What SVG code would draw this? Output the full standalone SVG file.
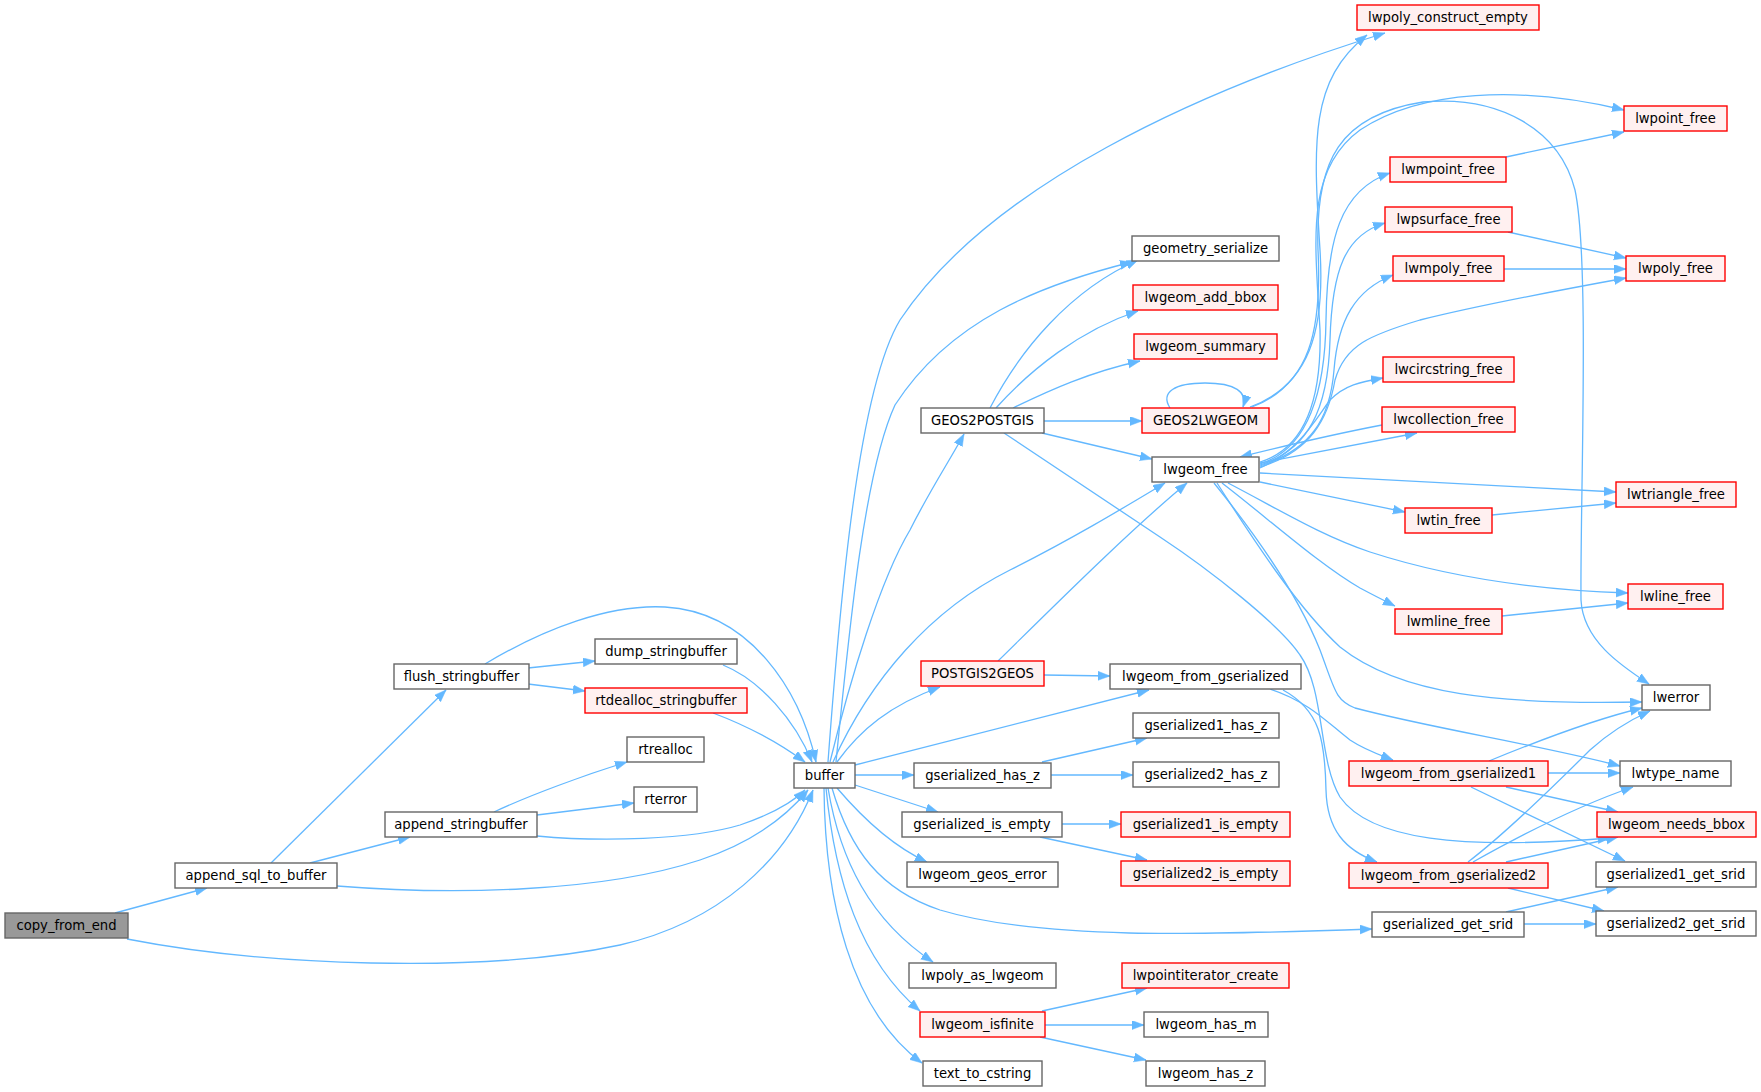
<svg xmlns="http://www.w3.org/2000/svg" width="1761" height="1092" viewBox="0 0 1761 1092">
<style>
.n rect{fill:#ffffff;stroke:#666666;stroke-width:1.4}
.r rect{fill:#fff0f0;stroke:#ff0000;stroke-width:1.4}
.root rect{fill:#999999;stroke:#666666;stroke-width:1.4}
text{font-family:"DejaVu Sans","Liberation Sans",Arial,sans-serif;font-size:13.2px;text-anchor:middle;fill:#000000}
#edges path{fill:none;stroke:#63b8ff;stroke-width:1.3;marker-end:url(#arr)}
</style>
<defs>
<marker id="arr" markerUnits="userSpaceOnUse" markerWidth="13" markerHeight="10" refX="12" refY="4.5" orient="auto">
<path d="M0,0 L12,4.5 L0,9 z" fill="#63b8ff" stroke="#63b8ff" stroke-width="0.5"/>
</marker>
</defs>
<rect width="1761" height="1092" fill="#ffffff"/>
<g id="edges">
<path d="M115,913 L207,888"/>
<path d="M127,939 C260,965 480,975 620,945 C720,922 785,860 813,790"/>
<path d="M271,863 L446,690"/>
<path d="M310,863 L410,837"/>
<path d="M337,886 C450,895 600,893 700,860 C760,840 790,812 808,790"/>
<path d="M494,812 C530,795 585,775 627,762"/>
<path d="M537,815 L634,803"/>
<path d="M537,836 C600,842 690,840 740,825 C775,813 795,800 805,790"/>
<path d="M485,664 C545,628 610,604 665,607 C750,612 800,690 816,762"/>
<path d="M528,668 L595,661"/>
<path d="M528,684 L585,691"/>
<path d="M723,665 C760,680 795,720 812,762"/>
<path d="M713,713 C745,725 775,740 805,762"/>
<path d="M828,762 C840,600 858,390 900,320 C990,185 1200,90 1385,33"/>
<path d="M836,762 C850,620 865,470 895,405 C950,320 1040,285 1132,262"/>
<path d="M830,762 C850,680 880,580 910,530 C930,490 950,460 964,434"/>
<path d="M833,762 C870,680 930,610 1010,570 C1070,540 1120,510 1165,483"/>
<path d="M837,762 C860,730 890,705 940,687"/>
<path d="M855,765 L1149,690"/>
<path d="M855,775 L914,775"/>
<path d="M855,785 L938,812"/>
<path d="M837,788 C860,815 890,845 927,862"/>
<path d="M832,788 C850,850 880,890 940,910 C1040,940 1200,935 1372,929"/>
<path d="M828,788 C840,860 870,920 933,962"/>
<path d="M826,788 C835,880 860,960 920,1011"/>
<path d="M824,788 C825,900 850,1010 922,1063"/>
<path d="M990,408 C1020,350 1070,290 1138,260"/>
<path d="M996,408 C1030,370 1080,330 1138,311"/>
<path d="M1013,408 C1050,390 1090,372 1140,361"/>
<path d="M1044,421 L1142,421"/>
<path d="M1042,433 L1152,459"/>
<path d="M1004,433 L1160,537 C1210,570 1280,625 1300,655 C1325,690 1318,760 1340,797 C1370,840 1460,850 1610,838"/>
<path d="M1170,408 C1160,392 1175,383 1205,383 C1235,383 1248,392 1243,407"/>
<path d="M1250,407 C1310,385 1325,330 1320,250 C1313,140 1310,80 1367,35"/>
<path d="M1252,407 C1310,385 1322,330 1318,250 C1315,160 1340,115 1423,102 C1500,95 1560,130 1575,190 C1590,260 1580,500 1581,600 C1583,640 1620,665 1649,684"/>
<path d="M1260,462 C1300,450 1322,410 1320,330 C1315,240 1305,170 1360,130 C1420,90 1520,85 1624,110"/>
<path d="M1260,464 C1305,450 1325,400 1326,320 C1327,240 1340,190 1390,173"/>
<path d="M1260,465 C1308,450 1328,410 1330,340 C1332,270 1345,235 1385,223"/>
<path d="M1260,466 C1310,450 1330,420 1334,370 C1338,320 1355,290 1393,275"/>
<path d="M1260,467 C1310,452 1328,420 1335,380 C1345,345 1370,335 1420,320 C1480,305 1560,290 1626,278"/>
<path d="M1260,468 C1300,450 1315,420 1330,400 C1345,385 1360,382 1383,378"/>
<path d="M1382,425 C1330,435 1280,447 1240,457"/>
<path d="M1260,463 C1320,452 1370,442 1417,433"/>
<path d="M1260,473 C1400,480 1500,486 1616,492"/>
<path d="M1260,482 L1405,512"/>
<path d="M1228,483 C1280,510 1320,535 1370,552 C1450,578 1540,590 1628,593"/>
<path d="M1222,483 C1270,520 1320,565 1360,588 C1375,596 1385,601 1395,606"/>
<path d="M1217,483 C1260,550 1300,610 1340,647 C1400,695 1500,705 1642,702"/>
<path d="M1214,483 C1260,540 1300,600 1320,650 C1335,690 1335,700 1355,708 C1430,728 1540,745 1620,766"/>
<path d="M1506,157 L1624,132"/>
<path d="M1508,232 L1626,258"/>
<path d="M1504,269 L1626,269"/>
<path d="M1492,515 L1616,503"/>
<path d="M1502,616 L1628,603"/>
<path d="M1044,675 L1110,676"/>
<path d="M998,661 C1050,610 1130,530 1187,483"/>
<path d="M1270,689 C1310,702 1330,725 1350,740 C1365,750 1380,755 1393,760"/>
<path d="M1283,690 C1320,710 1325,740 1326,790 C1327,830 1345,850 1377,862"/>
<path d="M1042,762 L1147,738"/>
<path d="M1051,775 L1133,775"/>
<path d="M1062,824 L1121,824"/>
<path d="M1040,837 L1147,860"/>
<path d="M1042,1011 L1147,988"/>
<path d="M1045,1025 L1144,1025"/>
<path d="M1040,1037 L1146,1060"/>
<path d="M1489,761 C1540,740 1600,718 1642,708"/>
<path d="M1548,773 L1620,773"/>
<path d="M1506,787 L1618,812"/>
<path d="M1471,787 L1625,861"/>
<path d="M1468,862 C1510,830 1560,780 1590,750 C1610,732 1630,720 1650,711"/>
<path d="M1473,862 C1530,830 1580,805 1633,787"/>
<path d="M1506,862 L1618,837"/>
<path d="M1508,888 L1604,911"/>
<path d="M1506,912 L1618,887"/>
<path d="M1524,924 L1596,924"/>
</g>
<g id="n_copy_from_end" class="root"><rect x="5" y="913" width="123" height="25"/><text x="66.5" y="930">copy_from_end</text></g>
<g id="n_append_sql_to_buffer" class="n"><rect x="175" y="863" width="162" height="25"/><text x="256" y="880">append_sql_to_buffer</text></g>
<g id="n_flush_stringbuffer" class="n"><rect x="394" y="664" width="135" height="25"/><text x="461.5" y="681">flush_stringbuffer</text></g>
<g id="n_append_stringbuffer" class="n"><rect x="385" y="812" width="152" height="25"/><text x="461" y="829">append_stringbuffer</text></g>
<g id="n_dump_stringbuffer" class="n"><rect x="595" y="639" width="142" height="25"/><text x="666" y="656">dump_stringbuffer</text></g>
<g id="n_rtdealloc_stringbuffer" class="r"><rect x="585" y="688" width="162" height="25"/><text x="666" y="705">rtdealloc_stringbuffer</text></g>
<g id="n_rtrealloc" class="n"><rect x="627" y="737" width="77" height="25"/><text x="665.5" y="754">rtrealloc</text></g>
<g id="n_rterror" class="n"><rect x="634" y="787" width="63" height="25"/><text x="665.5" y="804">rterror</text></g>
<g id="n_buffer" class="n"><rect x="794" y="763" width="61" height="25"/><text x="824.5" y="780">buffer</text></g>
<g id="n_GEOS2POSTGIS" class="n"><rect x="921" y="408" width="123" height="25"/><text x="982.5" y="425">GEOS2POSTGIS</text></g>
<g id="n_POSTGIS2GEOS" class="r"><rect x="921" y="661" width="123" height="25"/><text x="982.5" y="678">POSTGIS2GEOS</text></g>
<g id="n_gserialized_has_z" class="n"><rect x="914" y="763" width="137" height="25"/><text x="982.5" y="780">gserialized_has_z</text></g>
<g id="n_gserialized_is_empty" class="n"><rect x="902" y="812" width="160" height="25"/><text x="982" y="829">gserialized_is_empty</text></g>
<g id="n_lwgeom_geos_error" class="n"><rect x="907" y="862" width="151" height="25"/><text x="982.5" y="879">lwgeom_geos_error</text></g>
<g id="n_lwpoly_as_lwgeom" class="n"><rect x="909" y="963" width="147" height="25"/><text x="982.5" y="980">lwpoly_as_lwgeom</text></g>
<g id="n_lwgeom_isfinite" class="r"><rect x="920" y="1012" width="125" height="25"/><text x="982.5" y="1029">lwgeom_isfinite</text></g>
<g id="n_text_to_cstring" class="n"><rect x="923" y="1061" width="119" height="25"/><text x="982.5" y="1078">text_to_cstring</text></g>
<g id="n_geometry_serialize" class="n"><rect x="1132" y="236" width="147" height="25"/><text x="1205.5" y="253">geometry_serialize</text></g>
<g id="n_lwgeom_add_bbox" class="r"><rect x="1133" y="285" width="145" height="25"/><text x="1205.5" y="302">lwgeom_add_bbox</text></g>
<g id="n_lwgeom_summary" class="r"><rect x="1134" y="334" width="143" height="25"/><text x="1205.5" y="351">lwgeom_summary</text></g>
<g id="n_GEOS2LWGEOM" class="r"><rect x="1142" y="408" width="127" height="25"/><text x="1205.5" y="425">GEOS2LWGEOM</text></g>
<g id="n_lwgeom_free" class="n"><rect x="1152" y="457" width="107" height="25"/><text x="1205.5" y="474">lwgeom_free</text></g>
<g id="n_lwgeom_from_gserialized" class="n"><rect x="1110" y="664" width="191" height="25"/><text x="1205.5" y="681">lwgeom_from_gserialized</text></g>
<g id="n_gserialized1_has_z" class="n"><rect x="1133" y="713" width="146" height="25"/><text x="1206" y="730">gserialized1_has_z</text></g>
<g id="n_gserialized2_has_z" class="n"><rect x="1133" y="762" width="146" height="25"/><text x="1206" y="779">gserialized2_has_z</text></g>
<g id="n_gserialized1_is_empty" class="r"><rect x="1121" y="812" width="169" height="25"/><text x="1205.5" y="829">gserialized1_is_empty</text></g>
<g id="n_gserialized2_is_empty" class="r"><rect x="1121" y="861" width="169" height="25"/><text x="1205.5" y="878">gserialized2_is_empty</text></g>
<g id="n_lwpointiterator_create" class="r"><rect x="1122" y="963" width="167" height="25"/><text x="1205.5" y="980">lwpointiterator_create</text></g>
<g id="n_lwgeom_has_m" class="n"><rect x="1144" y="1012" width="124" height="25"/><text x="1206" y="1029">lwgeom_has_m</text></g>
<g id="n_lwgeom_has_z" class="n"><rect x="1146" y="1061" width="119" height="25"/><text x="1205.5" y="1078">lwgeom_has_z</text></g>
<g id="n_lwpoly_construct_empty" class="r"><rect x="1357" y="5" width="182" height="25"/><text x="1448" y="22">lwpoly_construct_empty</text></g>
<g id="n_lwmpoint_free" class="r"><rect x="1390" y="157" width="116" height="25"/><text x="1448" y="174">lwmpoint_free</text></g>
<g id="n_lwpsurface_free" class="r"><rect x="1385" y="207" width="127" height="25"/><text x="1448.5" y="224">lwpsurface_free</text></g>
<g id="n_lwmpoly_free" class="r"><rect x="1393" y="256" width="111" height="25"/><text x="1448.5" y="273">lwmpoly_free</text></g>
<g id="n_lwcircstring_free" class="r"><rect x="1383" y="357" width="131" height="25"/><text x="1448.5" y="374">lwcircstring_free</text></g>
<g id="n_lwcollection_free" class="r"><rect x="1382" y="407" width="133" height="25"/><text x="1448.5" y="424">lwcollection_free</text></g>
<g id="n_lwtin_free" class="r"><rect x="1405" y="508" width="87" height="25"/><text x="1448.5" y="525">lwtin_free</text></g>
<g id="n_lwmline_free" class="r"><rect x="1395" y="609" width="107" height="25"/><text x="1448.5" y="626">lwmline_free</text></g>
<g id="n_lwgeom_from_gserialized1" class="r"><rect x="1349" y="761" width="199" height="25"/><text x="1448.5" y="778">lwgeom_from_gserialized1</text></g>
<g id="n_lwgeom_from_gserialized2" class="r"><rect x="1349" y="863" width="199" height="25"/><text x="1448.5" y="880">lwgeom_from_gserialized2</text></g>
<g id="n_gserialized_get_srid" class="n"><rect x="1372" y="912" width="152" height="25"/><text x="1448" y="929">gserialized_get_srid</text></g>
<g id="n_lwpoint_free" class="r"><rect x="1624" y="106" width="103" height="25"/><text x="1675.5" y="123">lwpoint_free</text></g>
<g id="n_lwpoly_free" class="r"><rect x="1626" y="256" width="99" height="25"/><text x="1675.5" y="273">lwpoly_free</text></g>
<g id="n_lwtriangle_free" class="r"><rect x="1616" y="482" width="120" height="25"/><text x="1676" y="499">lwtriangle_free</text></g>
<g id="n_lwline_free" class="r"><rect x="1628" y="584" width="95" height="25"/><text x="1675.5" y="601">lwline_free</text></g>
<g id="n_lwerror" class="n"><rect x="1642" y="685" width="68" height="25"/><text x="1676" y="702">lwerror</text></g>
<g id="n_lwtype_name" class="n"><rect x="1620" y="761" width="111" height="25"/><text x="1675.5" y="778">lwtype_name</text></g>
<g id="n_lwgeom_needs_bbox" class="r"><rect x="1597" y="812" width="159" height="25"/><text x="1676.5" y="829">lwgeom_needs_bbox</text></g>
<g id="n_gserialized1_get_srid" class="n"><rect x="1596" y="862" width="160" height="25"/><text x="1676" y="879">gserialized1_get_srid</text></g>
<g id="n_gserialized2_get_srid" class="n"><rect x="1596" y="911" width="160" height="25"/><text x="1676" y="928">gserialized2_get_srid</text></g>
</svg>
